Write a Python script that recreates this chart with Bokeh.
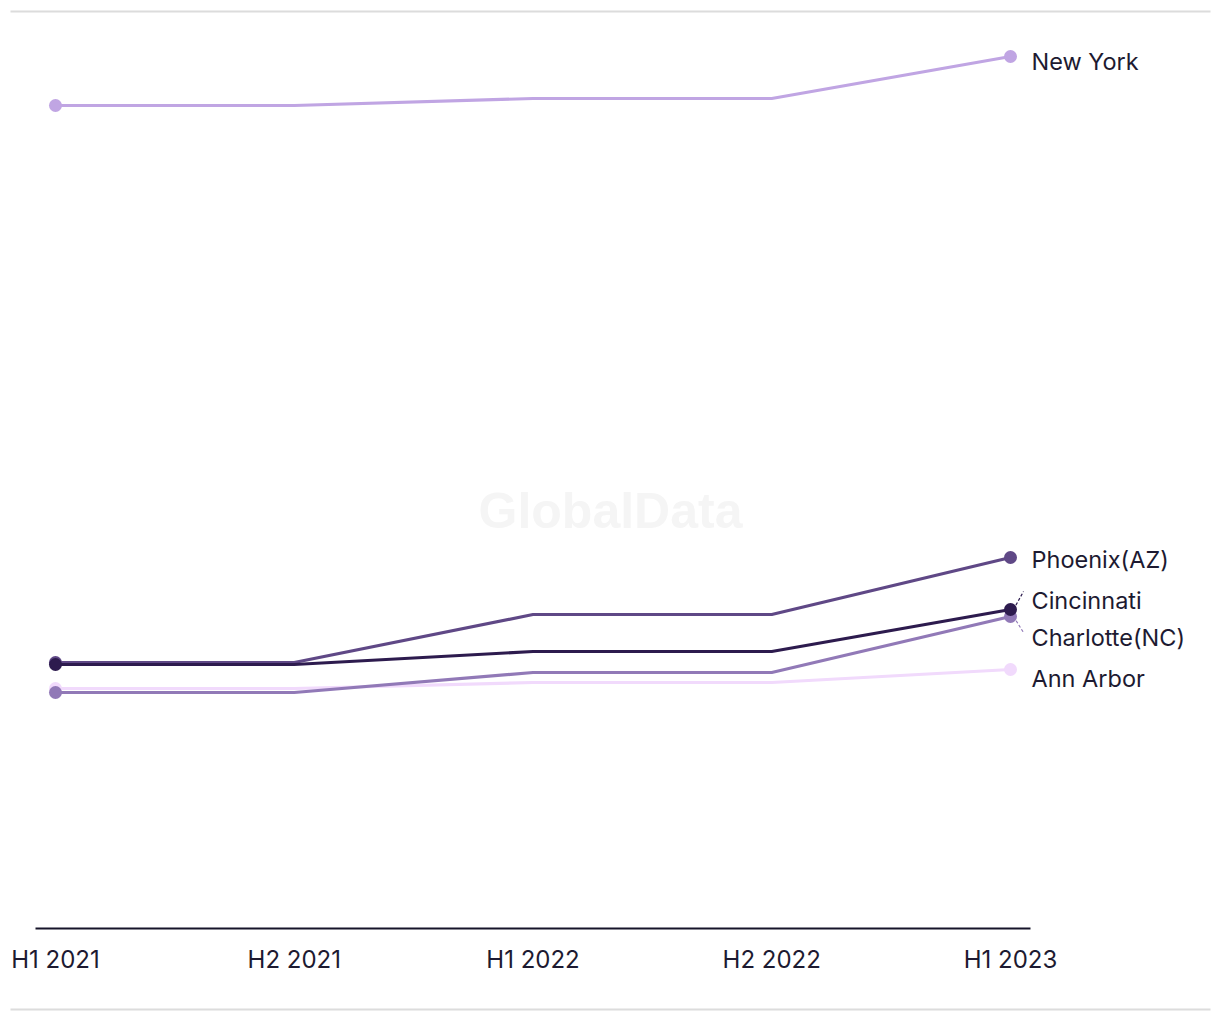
from bokeh.plotting import figure
from bokeh.models import Range1d, FixedTicker, ColumnDataSource
from bokeh.core.properties import value
from bokeh.embed import file_html
from bokeh.resources import INLINE

# ---------------- data ----------------
periods = ["H1 2021", "H2 2021", "H1 2022", "H2 2022", "H1 2023"]
cities = ["New York", "Ann Arbor", "Phoenix(AZ)", "Charlotte(NC)", "Cincinnati"]
new_york = [82.3, 82.3, 83.0, 83.0, 87.2]
ann_arbor = [24.0, 24.0, 24.6, 24.6, 25.9]
phoenix = [26.6, 26.6, 31.4, 31.4, 37.1]
charlotte = [23.6, 23.6, 25.6, 25.6, 31.2]
cincinnati = [26.4, 26.4, 27.7, 27.7, 31.9]
series = [new_york, ann_arbor, phoenix, charlotte, cincinnati]

# ---------------- style / layout ----------------
colors = ["#c0a5e3", "#f1dafc", "#5f4886", "#9179b7", "#2d1b4e"]
label_dy_px = [5, 9, 2, 21, -9]          # label offsets (px, + = down) to avoid overlap
BASE_DY = 4                              # natural label offset
W, H = 1220, 1020
PX_X = 238.75                            # px per category step
X0_PX = 55                               # px of first category
Y0_PX = 928                              # px of baseline
PX_Y = 10.0                              # px per value unit
FONT = "Inter"
TEXT_COLOR = "#1d1a31"

x_start = -X0_PX / PX_X
x_end = (W - X0_PX) / PX_X
y_start = -(H - Y0_PX) / PX_Y
y_end = Y0_PX / PX_Y

p = figure(width=W, height=H, x_range=Range1d(x_start, x_end), y_range=Range1d(y_start, y_end),
           output_backend="svg", toolbar_location=None, min_border=0,
           outline_line_color=None, background_fill_color="white", border_fill_color="white")
p.grid.visible = False
p.yaxis.visible = False

xs = list(range(len(periods)))
last = len(periods) - 1

# watermark
p.text(x=[(x_start + x_end) / 2], y=[(y_start + y_end) / 2], text=["GlobalData"],
       text_font=value("Liberation Sans"), text_font_style="bold", text_font_size="50px",
       text_color="#f5f5f5", text_align="center", text_baseline="middle")

# top / bottom rules
rx0, rx1 = (10 - X0_PX) / PX_X, (1210 - X0_PX) / PX_X
for ypx in (11, 1009):
    yy = (Y0_PX - ypx) / PX_Y
    p.segment(x0=[rx0], y0=[yy], x1=[rx1], y1=[yy], line_color="#dcdcdc", line_width=2)

# lines + end dots
for vals, c in zip(series, colors):
    src = ColumnDataSource(dict(x=xs, y=vals))
    p.line("x", "y", source=src, line_color=c, line_width=3.2)
    ends = ColumnDataSource(dict(x=[xs[0], xs[last]], y=[vals[0], vals[last]]))
    p.scatter("x", "y", source=ends, size=13, fill_color=c, line_color=None)

# end labels
lx = last + (1031 - (X0_PX + last * PX_X)) / PX_X
for name, vals, c, dy in zip(cities, series, colors, label_dy_px):
    ly = vals[-1] - dy / PX_Y
    p.text(x=[lx], y=[ly], text=[name], text_font=value(FONT), text_font_size="23.5px",
           text_color=TEXT_COLOR, text_align="left", text_baseline="middle")
    if abs(dy - BASE_DY) >= 10:
        end_off_px = -9 if dy < 0 else -5        # connector end relative to label centre
        ex = last + 13 / PX_X
        ey = ly - end_off_px / PX_Y
        p.segment(x0=[last + 3 / PX_X], y0=[vals[-1]], x1=[ex], y1=[ey],
                  line_color=c, line_width=1.2, line_dash="3 2")

# x axis
xa = p.xaxis[0]
xa.fixed_location = 0
xa.ticker = FixedTicker(ticks=xs)
xa.major_label_overrides = {i: lab for i, lab in enumerate(periods)}
xa.bounds = ((35 - X0_PX) / PX_X, (1030 - X0_PX) / PX_X)
xa.axis_line_color = "#16142a"
xa.axis_line_width = 2
xa.major_tick_line_color = None
xa.minor_tick_line_color = None
xa.major_tick_out = 0
xa.major_tick_in = 0
xa.major_label_standoff = 16
xa.major_label_text_font = FONT
xa.major_label_text_font_size = "24px"
xa.major_label_text_color = TEXT_COLOR

open("out.html", "w").write(file_html(p, INLINE))
